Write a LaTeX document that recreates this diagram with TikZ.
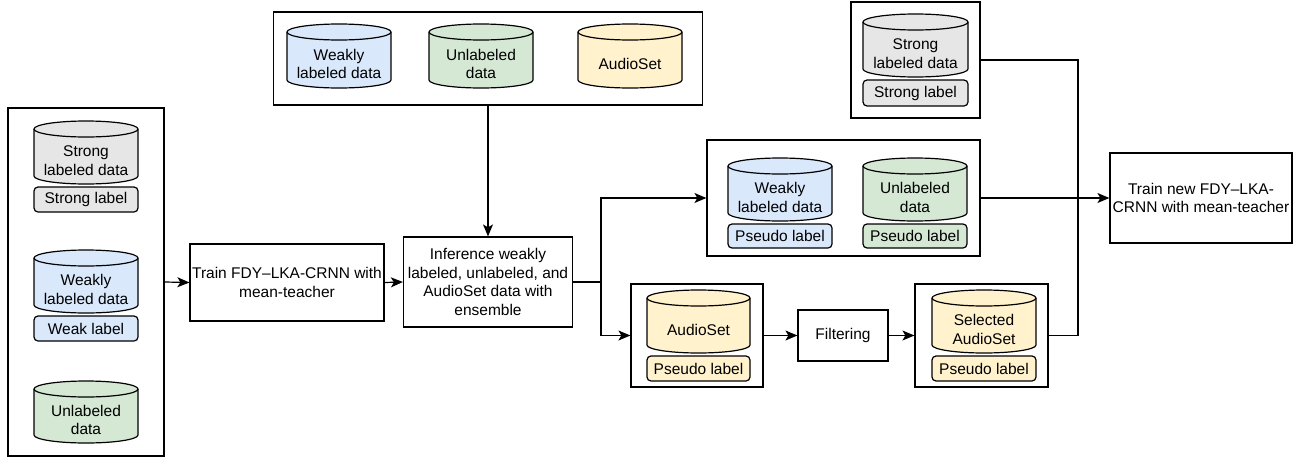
\documentclass[tikz,border=0pt]{standalone}
\usepackage{fontspec}
\setmainfont{Liberation Sans}
\usetikzlibrary{arrows.meta}
\definecolor{cgray}{HTML}{E6E6E6}
\definecolor{cblue}{HTML}{DAE8FC}
\definecolor{cgreen}{HTML}{D5E8D4}
\definecolor{cyellow}{HTML}{FFF2CC}
\tikzset{
  base/.style={line width=1.2pt, draw=black},
  box/.style={base, rectangle, inner sep=0pt, align=center, font=\fontsize{15.5}{18.5}\selectfont},
  lbl/.style={base, rectangle, rounded corners=4pt, inner sep=0pt, align=center, font=\fontsize{15.5}{18.5}\selectfont},
  txt/.style={inner sep=0pt, align=center, font=\fontsize{15.5}{18.5}\selectfont},
  arr/.style={line width=1.2pt, -{Stealth[length=12pt,width=10pt,inset=3pt]}},
  con/.style={line width=1.2pt},
}
% x1 y1 x2 y2 fill name text
\newcommand\dbcyl[7]{%
  \pgfmathsetmacro\crx{(#3-#1)/2}%
  \draw[base,fill=#5] (#1,#2+8) -- (#1,#4-8)
     arc[start angle=180,end angle=360,x radius=\crx pt,y radius=8pt]
     -- (#3,#2+8)
     arc[start angle=0,end angle=180,x radius=\crx pt,y radius=8pt] -- cycle;
  \draw[base] (#1,#2+8) arc[start angle=180,end angle=360,x radius=\crx pt,y radius=8pt];
  \node[txt] (#6) at ({(#1+#3)/2},{(#2+16+#4)/2}) {#7};
}
% x1 y1 x2 y2 fill name text
\newcommand\lblrect[7]{%
  \node[lbl,fill=#5,minimum width={(#3-#1)*1pt},minimum height={(#4-#2)*1pt}] (#6) at ({(#1+#3)/2},{(#2+#4)/2}) {#7};
}
\begin{document}
\begin{tikzpicture}[x=1pt,y=-1pt]
\useasboundingbox[fill=white] (0,0) rectangle (1296,458);

% containers and process boxes
\node[box,minimum width=156pt,minimum height=348pt] (L) at (86,282) {};
\node[box,minimum width=194pt,minimum height=77pt] (T) at (287,282.5) {Train FDY–LKA-CRNN with\\mean-teacher};
\node[box,minimum width=169pt,minimum height=90pt] (I) at (488,282) {Inference weakly\\labeled, unlabeled, and\\AudioSet data with\\ensemble};
\node[box,minimum width=429pt,minimum height=93pt] (P) at (488,58.5) {};
\node[box,minimum width=129pt,minimum height=116pt] (S) at (915.5,60) {};
\node[box,minimum width=273pt,minimum height=116pt] (M) at (843.5,198) {};
\node[box,minimum width=132pt,minimum height=103pt] (A) at (697,335.5) {};
\node[box,minimum width=90pt,minimum height=51pt] (F) at (843,335.5) {Filtering};
\node[box,minimum width=133pt,minimum height=103pt] (B) at (981.5,335.5) {};
\node[box,minimum width=182pt,minimum height=90pt] (N) at (1201,198) {Train new FDY–LKA-\\CRNN with mean-teacher};

% left container content
\dbcyl{34}{121}{138}{184}{cgray}{l1}{Strong\\labeled data}
\lblrect{34}{187}{138}{212}{cgray}{l1l}{Strong label}
\dbcyl{34}{250}{138}{313}{cblue}{l2}{Weakly\\labeled data}
\lblrect{34}{316}{138}{341}{cblue}{l2l}{Weak label}
\dbcyl{34}{381}{138}{443}{cgreen}{l3}{Unlabeled\\data}

% top container content
\dbcyl{287}{24}{391}{88}{cblue}{p1}{Weakly\\labeled data}
\dbcyl{429}{24}{533}{88}{cgreen}{p2}{Unlabeled\\data}
\dbcyl{578}{24}{682}{88}{cyellow}{p3}{AudioSet}

% strong top-right
\dbcyl{863}{14}{968}{77}{cgray}{s1}{Strong\\labeled data}
\lblrect{863}{80}{968}{106}{cgray}{s1l}{Strong label}

% middle pseudo container
\dbcyl{728}{158}{832}{221}{cblue}{m1}{Weakly\\labeled data}
\lblrect{728}{224}{832}{248}{cblue}{m1l}{Pseudo label}
\dbcyl{863}{158}{967}{221}{cgreen}{m2}{Unlabeled\\data}
\lblrect{863}{224}{967}{248}{cgreen}{m2l}{Pseudo label}

% AudioSet container
\dbcyl{647}{290}{750}{353}{cyellow}{a1}{AudioSet}
\lblrect{647}{356}{750}{381}{cyellow}{a1l}{Pseudo label}

% Selected AudioSet container
\dbcyl{932}{290}{1036}{353}{cyellow}{b1}{Selected\\AudioSet}
\lblrect{932}{356}{1036}{381}{cyellow}{b1l}{Pseudo label}

% connectors
\draw[arr] (L.east) -- (T.west);
\draw[arr] (T.east) -- (I.west);
\draw[arr] (P.south) -- (I.north);
\coordinate (br) at (601,282);
\draw[con] (I.east) -- (br);
\draw[arr] (br) |- (M.west);
\draw[arr] (br) |- (A.west);
\draw[arr] (A.east) -- (F.west);
\draw[arr] (F.east) -- (B.west);
\draw[arr] (M.east) -- (N.west);
\coordinate (jx) at (1078,0);
\draw[con] (S.east) -| (jx |- B.east) -- (B.east);
\end{tikzpicture}
\end{document}
